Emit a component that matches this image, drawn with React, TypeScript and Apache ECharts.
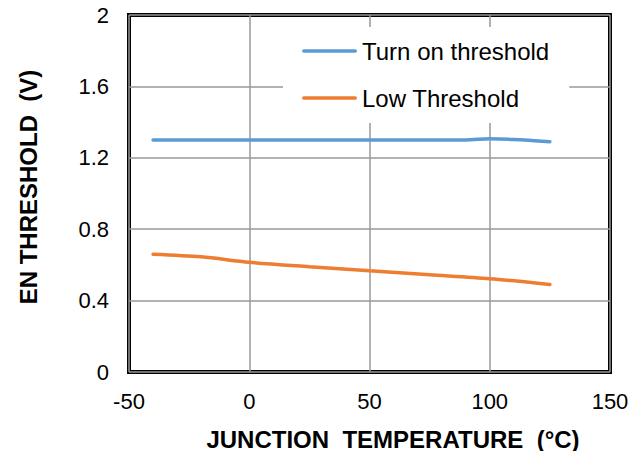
import React, { useEffect, useRef } from "react";
import * as echarts from "echarts";

const turnOnTemps = [-40, -20, 0, 25, 50, 75, 90, 100, 110, 125];
const turnOnValues = [1.3, 1.3, 1.3, 1.3, 1.3, 1.3, 1.3, 1.307, 1.303, 1.29];
const lowTemps = [-40, -20, 0, 25, 50, 75, 100, 125];
const lowValues = [0.66, 0.645, 0.615, 0.59, 0.567, 0.545, 0.523, 0.49];
const seriesNames = ["Turn on threshold", "Low Threshold"];
const xTitle = "JUNCTION  TEMPERATURE  (°C)";
const yTitle = "EN THRESHOLD  (V)";

const FONT = "Liberation Sans, Arial, sans-serif";

export default function App() {
  const ref = useRef<HTMLDivElement>(null);
  useEffect(() => {
    if (!ref.current) return;
    const chart = echarts.init(ref.current, undefined, { renderer: "svg" });
    chart.setOption({
      animation: false,
      backgroundColor: "#ffffff",
      grid: {
        left: 129,
        right: 30,
        top: 15,
        bottom: 79,
        show: true,
        borderColor: "#000000",
        borderWidth: 4,
        backgroundColor: "transparent",
      },
      xAxis: {
        type: "value",
        min: -50,
        max: 150,
        interval: 50,
        axisLine: { show: false },
        axisTick: { show: false },
        axisLabel: { fontSize: 22, color: "#000", fontFamily: FONT, margin: 18 },
        splitLine: { show: true, lineStyle: { color: "#999999", width: 1.5 } },
      },
      yAxis: {
        type: "value",
        min: 0,
        max: 2,
        interval: 0.4,
        axisLine: { show: false },
        axisTick: { show: false },
        axisLabel: { fontSize: 22, color: "#000", fontFamily: FONT, margin: 20 },
        splitLine: { show: true, lineStyle: { color: "#999999", width: 1.5 } },
      },
      legend: {
        orient: "vertical",
        left: 283,
        top: 27,
        padding: [12, 20, 13, 19],
        itemGap: 23,
        itemWidth: 55,
        itemHeight: 14,
        backgroundColor: "#ffffff",
        textStyle: { fontSize: 24, color: "#000", fontFamily: FONT },
        data: seriesNames.map((n) => ({
          name: n,
          icon: "path://M2,5.2 L53,5.2 A1.8,1.8 0 0 1 53,8.8 L2,8.8 A1.8,1.8 0 0 1 2,5.2 Z",
        })),
      },
      series: [
        {
          name: seriesNames[0],
          type: "line",
          data: turnOnTemps.map((t, i) => [t, turnOnValues[i]]),
          symbol: "none",
          smooth: 0.3,
          lineStyle: { color: "#5B9BD5", width: 3.5, cap: "round" },
          itemStyle: { color: "#5B9BD5" },
        },
        {
          name: seriesNames[1],
          type: "line",
          data: lowTemps.map((t, i) => [t, lowValues[i]]),
          symbol: "none",
          smooth: 0.3,
          lineStyle: { color: "#ED7D31", width: 3.5, cap: "round" },
          itemStyle: { color: "#ED7D31" },
        },
      ],
      graphic: [
        {
          type: "text",
          x: 393,
          y: 439,
          style: {
            text: xTitle,
            fontSize: 24,
            fontWeight: "bold",
            fontFamily: FONT,
            fill: "#000",
            textAlign: "center",
            textVerticalAlign: "middle",
          },
        },
        {
          type: "text",
          x: 28,
          y: 187,
          rotation: Math.PI / 2,
          style: {
            text: yTitle,
            fontSize: 24,
            fontWeight: "bold",
            fontFamily: FONT,
            fill: "#000",
            textAlign: "center",
            textVerticalAlign: "middle",
          },
        },
      ],
    });
    return () => chart.dispose();
  }, []);
  return <div ref={ref} style={{ width: 640, height: 451, position: "absolute", left: 0, top: 0 }} />;
}
